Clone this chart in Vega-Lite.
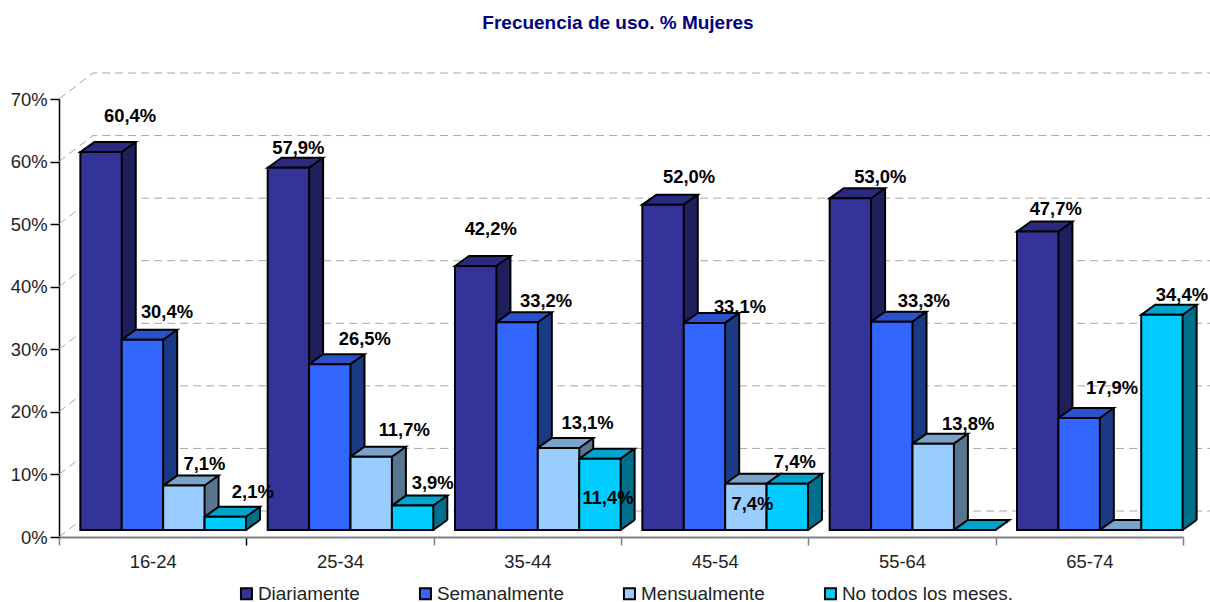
{
"$schema":"https://vega.github.io/schema/vega-lite/v6.json",
"width":1124,"height":438,
"autosize":"none",
"padding":{"left":59,"top":99,"right":27,"bottom":65},
"background":"white",
"config":{"view":{"stroke":null},"font":"Liberation Sans"},
"title":{"text":"Frecuencia de uso. % Mujeres","font":"Liberation Sans","fontSize":19,"fontWeight":"bold","color":"#000080","offset":38,"dx":-3,"anchor":"middle"},
"datasets":{
"ticks":[{"t":0},{"t":0.1},{"t":0.2},{"t":0.3},{"t":0.4},{"t":0.5},{"t":0.6},{"t":0.7}],
"barras":[
{"grupo":"16-24","serie":"Diariamente","valor":0.604,"etiqueta":"60,4%"},
{"grupo":"16-24","serie":"Semanalmente","valor":0.304,"etiqueta":"30,4%"},
{"grupo":"16-24","serie":"Mensualmente","valor":0.071,"etiqueta":"7,1%"},
{"grupo":"16-24","serie":"No todos los meses.","valor":0.021,"etiqueta":"2,1%"},
{"grupo":"25-34","serie":"Diariamente","valor":0.579,"etiqueta":"57,9%"},
{"grupo":"25-34","serie":"Semanalmente","valor":0.265,"etiqueta":"26,5%"},
{"grupo":"25-34","serie":"Mensualmente","valor":0.117,"etiqueta":"11,7%"},
{"grupo":"25-34","serie":"No todos los meses.","valor":0.039,"etiqueta":"3,9%"},
{"grupo":"35-44","serie":"Diariamente","valor":0.422,"etiqueta":"42,2%"},
{"grupo":"35-44","serie":"Semanalmente","valor":0.332,"etiqueta":"33,2%"},
{"grupo":"35-44","serie":"Mensualmente","valor":0.131,"etiqueta":"13,1%"},
{"grupo":"35-44","serie":"No todos los meses.","valor":0.114,"etiqueta":"11,4%"},
{"grupo":"45-54","serie":"Diariamente","valor":0.52,"etiqueta":"52,0%"},
{"grupo":"45-54","serie":"Semanalmente","valor":0.331,"etiqueta":"33,1%"},
{"grupo":"45-54","serie":"Mensualmente","valor":0.074,"etiqueta":"7,4%"},
{"grupo":"45-54","serie":"No todos los meses.","valor":0.074,"etiqueta":"7,4%"},
{"grupo":"55-64","serie":"Diariamente","valor":0.53,"etiqueta":"53,0%"},
{"grupo":"55-64","serie":"Semanalmente","valor":0.333,"etiqueta":"33,3%"},
{"grupo":"55-64","serie":"Mensualmente","valor":0.138,"etiqueta":"13,8%"},
{"grupo":"55-64","serie":"No todos los meses.","valor":0,"etiqueta":""},
{"grupo":"65-74","serie":"Diariamente","valor":0.477,"etiqueta":"47,7%"},
{"grupo":"65-74","serie":"Semanalmente","valor":0.179,"etiqueta":"17,9%"},
{"grupo":"65-74","serie":"Mensualmente","valor":0,"etiqueta":""},
{"grupo":"65-74","serie":"No todos los meses.","valor":0.344,"etiqueta":"34,4%"}
]},
"resolve":{"scale":{"fill":"independent"}},
"layer":[
{"data":{"name":"ticks"},
 "mark":{"type":"point","shape":"M-93.67,0L-59.67,-26L1116.33,-26","size":4,"filled":false,"opacity":1,"color":"#a6a6a6","strokeWidth":1,"strokeDash":[8,5]},
 "encoding":{
  "x":{"datum":"16-24","type":"nominal","scale":{"type":"band","domain":["16-24","25-34","35-44","45-54","55-64","65-74"],"paddingInner":0,"paddingOuter":0},
   "axis":{"title":null,"tickBand":"extent","labelAngle":0,"domainColor":"#808080","domainWidth":2,"tickColor":{"condition":{"test":"datum.value==='16-24'","value":"#000000"},"value":"#808080"},"tickWidth":1.5,"tickSize":8,"labelFont":"Liberation Sans","labelFontSize":18.4,"labelColor":"#222222","labelPadding":7}},
  "y":{"field":"t","type":"quantitative","scale":{"domain":[0,0.7]},"axis":{"values":[0,0.1,0.2,0.3,0.4,0.5,0.6,0.7],"format":".0%","title":null,"grid":false,"domainColor":"#000000","domainWidth":1.5,"tickColor":"#000000","tickWidth":1.5,"tickSize":9,"labelFont":"Liberation Sans","labelFontSize":18.4,"labelColor":"#222222","labelPadding":3}}}},
{"data":{"name":"barras"},
 "encoding":{
  "x":{"field":"grupo","type":"nominal","title":null},
  "xOffset":{"field":"serie","type":"nominal","scale":{"domain":["Diariamente","Semanalmente","Mensualmente","No todos los meses."],"range":[10.5,197.83],"paddingInner":0,"paddingOuter":0.262}},
  "y":{"field":"valor","type":"quantitative","stack":null,"title":null}
 },
 "resolve":{"scale":{"fill":"independent"}},
 "layer":[
  {"mark":{"type":"bar","width":14,"xOffset":{"expr":"indexof(['Diariamente','Semanalmente','Mensualmente','No todos los meses.'],datum.serie)*41.4-23.9"},"yOffset":-17,"y2Offset":-17,"strokeWidth":0},
   "encoding":{"xOffset":null,"y2":{"datum":0},"fill":{"field":"serie","type":"nominal","legend":null,"scale":{"domain":["Diariamente","Semanalmente","Mensualmente","No todos los meses."],"range":["#1f1f5c","#1a3a85","#5a7590","#006f8c"]}}}},
  {"mark":{"type":"point","shape":"M20.7,-7L20.7,-17L34.7,-17Z","size":4,"filled":true,"opacity":1,"strokeWidth":0},
   "encoding":{"y":{"datum":0,"type":"quantitative"},"fill":{"field":"serie","type":"nominal","legend":null,"scale":{"domain":["Diariamente","Semanalmente","Mensualmente","No todos los meses."],"range":["#1f1f5c","#1a3a85","#5a7590","#006f8c"]}}}},
  {"mark":{"type":"point","shape":"M20.7,-7L34.7,-17","size":4,"filled":false,"opacity":1,"color":"#000000","strokeWidth":2},
   "encoding":{"y":{"datum":0,"type":"quantitative"}}},
  {"mark":{"type":"rule","xOffset":{"expr":"indexof(['Diariamente','Semanalmente','Mensualmente','No todos los meses.'],datum.serie)*41.4-16.9"},"yOffset":-17,"y2Offset":-17,"color":"#000000","strokeWidth":2},
   "encoding":{"xOffset":null,"y2":{"datum":0}}},
  {"mark":{"type":"point","shape":"M-20.7,-7L-6.7,-17L34.7,-17L20.7,-7Z","size":4,"filled":true,"opacity":1,"stroke":"#000000","strokeWidth":2},
   "encoding":{"fill":{"field":"serie","type":"nominal","legend":null,"scale":{"domain":["Diariamente","Semanalmente","Mensualmente","No todos los meses."],"range":["#2a2a80","#2952cc","#7aa3cc","#00a3cc"]}}}},
  {"mark":{"type":"bar","yOffset":-7,"y2Offset":-7,"stroke":"#000000","strokeWidth":2},
   "encoding":{"y2":{"datum":0},"fill":{"field":"serie","type":"nominal","scale":{"domain":["Diariamente","Semanalmente","Mensualmente","No todos los meses."],"range":["#333399","#3366ff","#99ccff","#00ccff"]},
    "legend":{"title":null,"orient":"none","legendX":178,"legendY":485,"direction":"horizontal","columns":4,"gridAlign":"each","columnPadding":55,"symbolType":"square","symbolSize":121,"symbolStrokeColor":"#000000","symbolStrokeWidth":2,"labelFont":"Liberation Sans","labelFontSize":18.9,"labelColor":"#222222","labelOffset":2,"labelLimit":400}}}},
  {"transform":[{"filter":"datum.etiqueta !== ''"}],
   "mark":{"type":"text","font":"Liberation Sans","fontSize":18.4,"fontWeight":"bold","color":"#000000","align":"center","baseline":"middle",
    "yOffset":-7,
    "dx":{"expr":"({'16-24|D':29,'16-24|S':24.5,'16-24|M':20.5,'16-24|N':27.5,'25-34|D':10,'25-34|S':35,'25-34|M':33,'25-34|N':20,'35-44|D':15,'35-44|S':29,'35-44|M':29,'35-44|N':8,'45-54|D':26,'45-54|S':35.5,'45-54|M':6.5,'45-54|N':7.5,'55-64|D':30,'55-64|S':32,'55-64|M':35,'65-74|D':18,'65-74|S':33,'65-74|N':20})[datum.grupo+'|'+datum.serie[0]]"},
    "dy":{"expr":"({'16-24|D':-36,'16-24|S':-28,'16-24|M':-21.5,'16-24|N':-25,'25-34|D':-20,'25-34|S':-25,'25-34|M':-27,'25-34|N':-22.5,'35-44|D':-37,'35-44|S':-21,'35-44|M':-25,'35-44|N':39.5,'45-54|D':-28,'45-54|S':-15.5,'45-54|M':20.4,'45-54|N':-21.6,'55-64|D':-21.7,'55-64|S':-21,'55-64|M':-19.5,'65-74|D':-23,'65-74|S':-30,'65-74|N':-20})[datum.grupo+'|'+datum.serie[0]]"}},
   "encoding":{"text":{"field":"etiqueta","type":"nominal"}}}
 ]}
]
}
